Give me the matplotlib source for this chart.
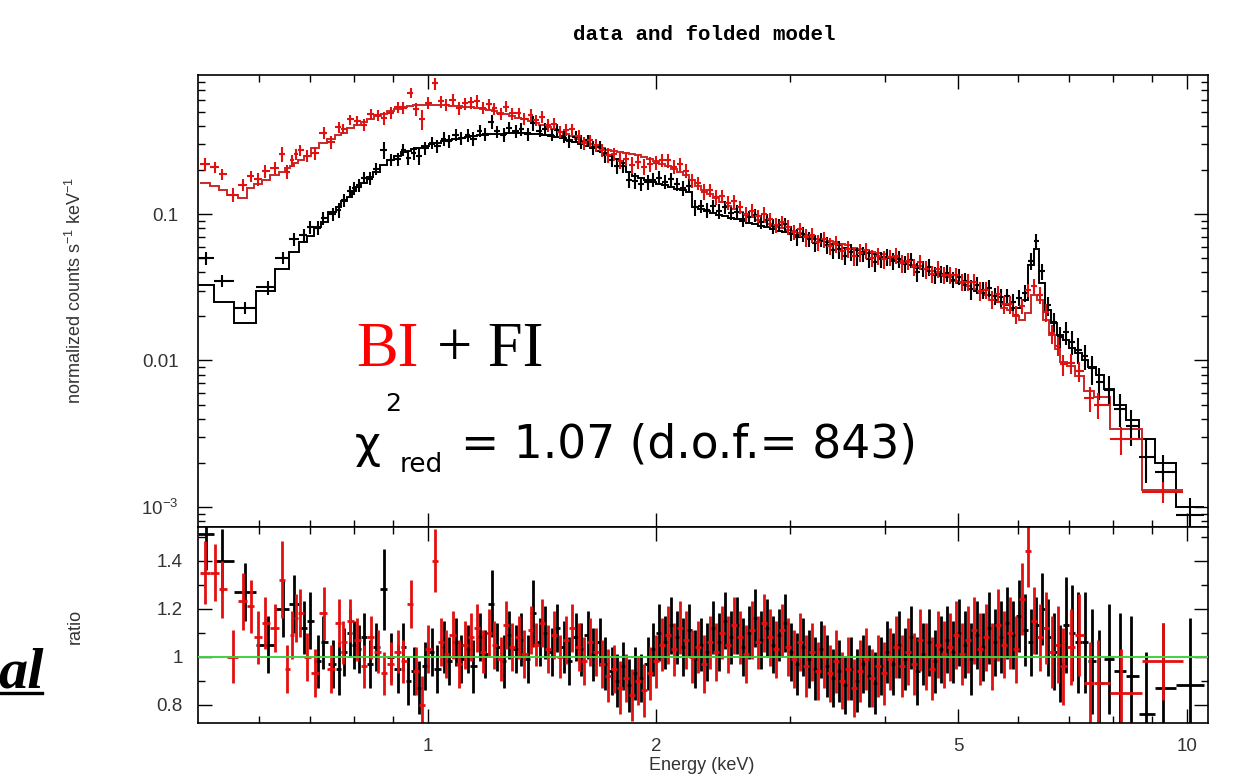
import numpy as np
import matplotlib
matplotlib.use("Agg")
import matplotlib.pyplot as plt
from matplotlib.ticker import FixedLocator, FixedFormatter, NullFormatter
from matplotlib.lines import Line2D

# ---------------- data ----------------
# FI (black) spectrum: bin centre energy (keV), folded model (counts/s/keV),
# data/model ratio and 1-sigma ratio error
fi_energy = [
    0.510, 0.535, 0.575, 0.615, 0.645, 0.667, 0.686, 0.700, 0.717, 0.728,
    0.750, 0.763, 0.775, 0.789, 0.800, 0.811, 0.823, 0.840, 0.854, 0.875,
    0.894, 0.913, 0.929,
    0.941, 0.958, 0.974, 0.993, 1.012, 1.029, 1.050, 1.067, 1.089, 1.107,
    1.129, 1.148, 1.171, 1.190, 1.214, 1.234, 1.259, 1.280, 1.306, 1.328,
    1.354, 1.377, 1.404, 1.428, 1.456, 1.481, 1.510, 1.536, 1.566, 1.593,
    1.624, 1.652, 1.684, 1.713, 1.747, 1.777, 1.811, 1.842, 1.878, 1.911,
    1.948, 1.982, 2.020, 2.055, 2.095, 2.131, 2.172, 2.210, 2.253, 2.292,
    2.336, 2.377, 2.423, 2.465, 2.512, 2.556, 2.605, 2.651, 2.702, 2.749,
    2.801, 2.851, 2.905, 2.956, 3.012, 3.066, 3.124, 3.179, 3.239, 3.297,
    3.359, 3.419, 3.484, 3.545, 3.612, 3.677, 3.746, 3.813, 3.885, 3.954,
    4.029, 4.101, 4.178, 4.253, 4.333, 4.410, 4.493, 4.574, 4.660, 4.743,
    4.832, 4.919, 5.011, 5.101, 5.197, 5.290, 5.389, 5.486, 5.589, 5.690,
    5.796, 5.901, 6.011, 6.119, 6.231, 6.339, 6.451, 6.569, 6.691, 6.809,
    6.94, 7.07, 7.20, 7.34, 7.50, 7.67, 7.90, 8.17, 8.45, 8.85,
    9.30, 10.1,
]
fi_model = [
    0.033, 0.025, 0.018, 0.030, 0.042, 0.055, 0.064, 0.071, 0.082, 0.088,
    0.103, 0.112, 0.122, 0.130, 0.143, 0.153, 0.163, 0.180, 0.195, 0.215,
    0.235, 0.250, 0.265,
    0.270, 0.277, 0.284, 0.292, 0.300, 0.307, 0.314, 0.320, 0.326, 0.331,
    0.336, 0.340, 0.344, 0.347, 0.350, 0.352, 0.354, 0.355, 0.356, 0.356,
    0.355, 0.353, 0.350, 0.346, 0.341, 0.335, 0.328, 0.320, 0.311, 0.302,
    0.292, 0.282, 0.271, 0.260, 0.248, 0.236, 0.222, 0.195, 0.182, 0.176,
    0.170, 0.166, 0.161, 0.157, 0.153, 0.149, 0.145, 0.141, 0.112, 0.108,
    0.105, 0.102, 0.099, 0.097, 0.094, 0.092, 0.089, 0.087, 0.085, 0.083,
    0.081, 0.079, 0.077, 0.075, 0.073, 0.072, 0.070, 0.068, 0.067, 0.065,
    0.064, 0.062, 0.061, 0.059, 0.058, 0.057, 0.055, 0.054, 0.053, 0.051,
    0.050, 0.049, 0.047, 0.046, 0.045, 0.043, 0.042, 0.041, 0.039, 0.038,
    0.037, 0.035, 0.034, 0.033, 0.031, 0.030, 0.029, 0.028, 0.026, 0.025,
    0.024, 0.023, 0.023, 0.026, 0.045, 0.058, 0.034, 0.022, 0.018, 0.015,
    0.0138, 0.0122, 0.0112, 0.0101, 0.0090, 0.0080, 0.0064, 0.0050, 0.0039, 0.0029,
    0.0020, 0.0010,
]
fi_ratio = [
    1.51, 1.40, 1.27, 1.05, 1.20, 1.22, 1.12, 1.15, 0.98, 1.06,
    0.97, 0.95, 1.02, 1.10, 1.05, 1.03, 1.08, 0.97, 1.04, 1.28,
    1.00, 0.95, 1.04,
    0.90, 0.94, 0.87, 0.96, 1.02, 0.95, 1.04, 0.98, 1.06, 0.99,
    1.03, 0.96, 1.08, 1.01, 1.22, 1.04, 0.98, 1.09, 1.03, 1.07,
    0.99, 1.18, 1.06, 1.10, 1.02, 1.12, 1.04, 0.98, 1.08, 1.03,
    1.09, 1.01, 1.06, 0.97, 0.94, 0.90, 0.96, 0.88, 0.93, 0.91,
    0.97, 1.03, 1.10, 1.06, 1.13, 1.08, 1.04, 1.11, 0.99, 1.05,
    1.02, 1.12, 1.06, 1.15, 1.08, 1.13, 1.04, 1.10, 1.16, 1.07,
    1.12, 1.05, 1.09, 1.14, 1.02, 0.97, 1.04, 0.99, 0.95, 1.03,
    0.96, 0.91, 0.94, 0.88, 0.95, 0.90, 0.97, 0.92, 0.89, 0.96,
    1.02, 0.97, 1.05, 0.99, 1.08, 0.94, 1.01, 1.06, 0.98, 1.03,
    1.07, 1.02, 1.10, 1.05, 0.99, 1.09, 1.04, 1.12, 1.06, 1.08,
    1.14, 1.09, 1.17, 1.11, 1.06, 1.13, 1.20, 1.08, 1.02, 0.97,
    1.13, 1.10, 1.06, 1.06, 0.98, 0.89, 0.99, 0.94, 0.92, 0.76,
    0.87, 0.88,
]
fi_err = [
    0.15, 0.13, 0.12, 0.12, 0.12, 0.12, 0.11, 0.12, 0.11, 0.11,
    0.10, 0.11, 0.10, 0.10, 0.10, 0.10, 0.10, 0.10, 0.10, 0.17,
    0.10, 0.10, 0.10,
    0.10, 0.10, 0.11, 0.10, 0.10, 0.10, 0.11, 0.10, 0.10, 0.10,
    0.10, 0.11, 0.10, 0.10, 0.14, 0.10, 0.11, 0.10, 0.10, 0.11,
    0.10, 0.14, 0.10, 0.11, 0.10, 0.10, 0.11, 0.10, 0.10, 0.11,
    0.10, 0.11, 0.10, 0.11, 0.10, 0.11, 0.10, 0.11, 0.11, 0.10,
    0.11, 0.11, 0.12, 0.11, 0.12, 0.11, 0.12, 0.11, 0.12, 0.11,
    0.12, 0.11, 0.12, 0.12, 0.11, 0.12, 0.12, 0.11, 0.12, 0.12,
    0.12, 0.12, 0.11, 0.12, 0.12, 0.13, 0.12, 0.12, 0.13, 0.12,
    0.13, 0.12, 0.13, 0.12, 0.13, 0.13, 0.12, 0.13, 0.13, 0.12,
    0.13, 0.13, 0.14, 0.13, 0.13, 0.14, 0.13, 0.14, 0.13, 0.14,
    0.14, 0.13, 0.14, 0.14, 0.15, 0.14, 0.14, 0.15, 0.14, 0.15,
    0.15, 0.14, 0.15, 0.15, 0.14, 0.12, 0.15, 0.16, 0.16, 0.16,
    0.20, 0.20, 0.21, 0.21, 0.22, 0.22, 0.23, 0.24, 0.25, 0.26,
    0.27, 0.28,
]

# BI (red) spectrum
bi_energy = [
    0.509, 0.524, 0.536, 0.553, 0.570, 0.584, 0.598, 0.611, 0.630, 0.643,
    0.653, 0.662, 0.671, 0.679, 0.694, 0.711, 0.729, 0.745, 0.763, 0.774,
    0.791, 0.808, 0.823, 0.841, 0.859, 0.875, 0.894, 0.913, 0.929,
    0.949, 0.966, 0.984, 1.002, 1.021, 1.040, 1.058, 1.078, 1.098, 1.118,
    1.139, 1.160, 1.181, 1.203, 1.224, 1.247, 1.269, 1.293, 1.317, 1.341,
    1.366, 1.390, 1.416, 1.442, 1.468, 1.495, 1.523, 1.551, 1.580, 1.608,
    1.638, 1.668, 1.698, 1.730, 1.762, 1.794, 1.826, 1.860, 1.894, 1.929,
    1.965, 2.001, 2.038, 2.075, 2.113, 2.151, 2.191, 2.231, 2.272, 2.314,
    2.356, 2.400, 2.444, 2.489, 2.534, 2.580, 2.628, 2.676, 2.725, 2.775,
    2.826, 2.878, 2.930, 2.984, 3.039, 3.095, 3.151, 3.209, 3.268, 3.328,
    3.389, 3.451, 3.514, 3.579, 3.644, 3.711, 3.779, 3.849, 3.919, 3.991,
    4.065, 4.139, 4.215, 4.292, 4.371, 4.451, 4.533, 4.616, 4.701, 4.787,
    4.875, 4.964, 5.055, 5.148, 5.242, 5.338, 5.436, 5.536, 5.637, 5.740,
    5.846, 5.953, 6.062, 6.173, 6.286, 6.401, 6.519, 6.638, 6.760, 6.880,
    7.05, 7.22, 7.45, 7.65, 8.20, 9.30,
]
bi_model = [
    0.162, 0.155, 0.146, 0.135, 0.129, 0.150, 0.160, 0.172, 0.185, 0.195,
    0.205, 0.213, 0.222, 0.232, 0.250, 0.280, 0.305, 0.325, 0.345, 0.360,
    0.385, 0.405, 0.425, 0.445, 0.465, 0.485, 0.505, 0.525, 0.540,
    0.550, 0.553, 0.555, 0.556, 0.556, 0.555, 0.553, 0.550, 0.546, 0.541,
    0.535, 0.528, 0.520, 0.511, 0.501, 0.490, 0.479, 0.467, 0.455, 0.443,
    0.430, 0.417, 0.404, 0.391, 0.378, 0.365, 0.352, 0.339, 0.326, 0.313,
    0.300, 0.288, 0.280, 0.274, 0.269, 0.265, 0.262, 0.258, 0.252, 0.245,
    0.237, 0.229, 0.221, 0.213, 0.204, 0.195, 0.185, 0.170, 0.156, 0.146,
    0.137, 0.128, 0.121, 0.114, 0.108, 0.103, 0.099, 0.095, 0.091, 0.088,
    0.085, 0.082, 0.080, 0.078, 0.076, 0.074, 0.072, 0.070, 0.068, 0.067,
    0.065, 0.064, 0.062, 0.061, 0.059, 0.058, 0.057, 0.055, 0.054, 0.053,
    0.051, 0.050, 0.048, 0.047, 0.045, 0.044, 0.042, 0.041, 0.040, 0.038,
    0.037, 0.035, 0.034, 0.032, 0.031, 0.029, 0.028, 0.026, 0.025, 0.023,
    0.022, 0.020, 0.019, 0.021, 0.028, 0.026, 0.019, 0.015, 0.012, 0.0098,
    0.0092, 0.0078, 0.0062, 0.0056, 0.0034, 0.0013,
]
bi_ratio = [
    1.35, 1.35, 1.28, 1.00, 1.23, 1.21, 1.08, 1.14, 1.12, 1.32,
    0.95, 1.09, 1.16, 1.18, 1.00, 0.93, 1.18, 0.95, 1.14, 1.06,
    1.15, 1.07, 0.96, 1.08, 1.02, 0.93, 0.97, 1.02, 0.98,
    1.22, 0.94, 0.80, 1.03, 1.40, 1.06, 1.01, 1.09, 0.97, 1.05,
    1.08, 1.12, 1.02, 1.10, 1.05, 0.99, 1.13, 1.04, 1.08, 1.01,
    1.11, 1.05, 1.14, 1.03, 1.09, 1.00, 1.07, 1.12, 1.04, 0.98,
    1.06, 1.02, 0.97, 0.92, 0.95, 0.87, 0.91, 0.84, 0.90, 0.86,
    0.93, 0.98, 1.05, 1.09, 1.03, 1.12, 1.07, 1.00, 1.04, 0.97,
    1.06, 1.02, 1.10, 1.05, 1.13, 1.08, 1.01, 1.11, 1.06, 1.14,
    1.08, 1.03, 1.11, 1.04, 0.99, 1.06, 0.96, 1.02, 0.94, 1.00,
    0.93, 0.98, 0.90, 0.95, 0.87, 0.94, 0.99, 0.91, 0.96, 0.93,
    0.99, 1.04, 0.96, 1.02, 0.97, 1.07, 1.00, 0.95, 1.05, 1.01,
    1.04, 1.09, 1.01, 1.07, 1.11, 1.03, 1.08, 1.00, 1.13, 1.05,
    1.10, 1.03, 1.24, 1.44, 1.15, 1.08, 1.12, 1.02, 1.05, 0.96,
    1.04, 1.09, 0.89, 0.89, 0.85, 0.98,
]
bi_err = [
    0.13, 0.12, 0.12, 0.11, 0.12, 0.11, 0.11, 0.11, 0.10, 0.16,
    0.10, 0.10, 0.10, 0.10, 0.10, 0.10, 0.11, 0.10, 0.10, 0.09,
    0.09, 0.09, 0.09, 0.09, 0.09, 0.09, 0.09, 0.09, 0.09,
    0.10, 0.10, 0.12, 0.10, 0.13, 0.10, 0.10, 0.10, 0.10, 0.10,
    0.10, 0.10, 0.09, 0.10, 0.10, 0.09, 0.10, 0.10, 0.09, 0.10,
    0.10, 0.09, 0.10, 0.10, 0.10, 0.09, 0.10, 0.10, 0.10, 0.10,
    0.10, 0.10, 0.10, 0.11, 0.10, 0.11, 0.10, 0.11, 0.10, 0.11,
    0.11, 0.11, 0.11, 0.12, 0.11, 0.11, 0.12, 0.11, 0.11, 0.12,
    0.11, 0.12, 0.11, 0.12, 0.12, 0.11, 0.12, 0.12, 0.11, 0.12,
    0.12, 0.12, 0.11, 0.12, 0.12, 0.12, 0.13, 0.12, 0.12, 0.13,
    0.12, 0.13, 0.12, 0.13, 0.12, 0.13, 0.13, 0.12, 0.13, 0.13,
    0.13, 0.13, 0.13, 0.14, 0.13, 0.13, 0.14, 0.13, 0.14, 0.14,
    0.14, 0.14, 0.13, 0.14, 0.14, 0.15, 0.14, 0.14, 0.15, 0.14,
    0.15, 0.14, 0.15, 0.15, 0.14, 0.14, 0.15, 0.15, 0.16, 0.16,
    0.16, 0.17, 0.17, 0.18, 0.18, 0.16,
]

x_tick_vals = [1, 2, 5, 10]
x_tick_text = ["1", "2", "5", "10"]
y_tick_vals = [1e-3, 1e-2, 1e-1]
y_tick_text = ["10$^{-3}$", "0.01", "0.1"]
r_tick_vals = [0.8, 1.0, 1.2, 1.4]
r_tick_text = ["0.8", "1", "1.2", "1.4"]

# ---------------- figure ----------------
plt.rcParams["mathtext.default"] = "regular"
W, H = 1241, 774
fig = plt.figure(figsize=(W / 100, H / 100), dpi=100)


def fx(px):
    return px / W


def fy(py):
    return 1 - py / H


L, R, T, M, B = 198, 1208, 75, 527, 723
ax1 = fig.add_axes([fx(L), fy(M), (R - L) / W, (M - T) / H])
ax2 = fig.add_axes([fx(L), fy(B), (R - L) / W, (B - M) / H], sharex=ax1)


def bin_edges(e):
    e = np.asarray(e, float)
    mid = np.sqrt(e[1:] * e[:-1])
    return np.concatenate([[e[0] ** 2 / mid[0]], mid, [e[-1] ** 2 / mid[-1]]])


def draw(energy, model, ratio, err, dcol, mcol):
    e = np.asarray(energy, float)
    m = np.asarray(model, float)
    r = np.asarray(ratio, float)
    s = np.asarray(err, float)
    ed = bin_edges(e)
    xerr = [e - ed[:-1], ed[1:] - e]
    ax1.errorbar(e, m * r, xerr=xerr, yerr=m * s, fmt="none",
                 ecolor=dcol, elinewidth=1.5, capsize=0)
    ax1.stairs(m, ed, color=mcol, lw=1.4, baseline=None)
    ax2.errorbar(e, r, xerr=xerr, yerr=s, fmt="none",
                 ecolor=dcol, elinewidth=2.0, capsize=0)


draw(fi_energy, fi_model, fi_ratio, fi_err, "black", "black")
draw(bi_energy, bi_model, bi_ratio, bi_err, "#e41010", "#c82828")
ax2.axhline(1.0, color="#3fd23f", lw=1.4, zorder=10)

for ax in (ax1, ax2):
    ax.set_xscale("log")
    ax.set_xlim(0.498, 10.67)
    for sp in ax.spines.values():
        sp.set_linewidth(1.2)
    ax.tick_params(which="both", direction="in", top=True, right=True,
                   colors="black", labelcolor="#333333", labelsize=13.5)
    ax.tick_params(which="major", length=10, width=1.0)
    ax.tick_params(which="minor", length=5, width=1.0)
    ax.xaxis.set_major_locator(FixedLocator(x_tick_vals))
    ax.xaxis.set_minor_locator(FixedLocator([0.6, 0.7, 0.8, 0.9, 3, 4, 6, 7, 8, 9]))
    ax.xaxis.set_minor_formatter(NullFormatter())

ax1.set_yscale("log")
ax1.set_ylim(7.3e-4, 0.889)
ax1.yaxis.set_major_locator(FixedLocator(y_tick_vals))
ax1.yaxis.set_major_formatter(FixedFormatter(y_tick_text))
ax1.yaxis.set_minor_locator(FixedLocator(
    [k * 10.0 ** p for p in (-4, -3, -2, -1) for k in range(2, 10)]))
ax1.yaxis.set_minor_formatter(NullFormatter())
ax1.tick_params(axis="x", labelbottom=False)
ax1.tick_params(axis="y", pad=14)

ax2.set_ylim(0.723, 1.54)
ax2.yaxis.set_major_locator(FixedLocator(r_tick_vals))
ax2.yaxis.set_major_formatter(FixedFormatter(r_tick_text))
ax2.yaxis.set_minor_locator(FixedLocator([0.9, 1.1, 1.3, 1.5]))
ax2.xaxis.set_major_formatter(FixedFormatter(x_tick_text))
ax2.tick_params(axis="y", pad=11)
ax2.tick_params(axis="x", pad=11)

for ax in (ax1, ax2):
    for lab in ax.get_xticklabels() + ax.get_yticklabels():
        lab.set_family("Liberation Sans")

# ---------------- texts ----------------
fig.text(fx(704), fy(35), "data and folded model", ha="center", va="center",
         family="Liberation Mono", weight="bold", fontsize=15, color="black")
fig.text(fx(75), fy(290), "normalized counts s$^{-1}$ keV$^{-1}$", rotation=90,
         ha="center", va="center", family="Liberation Sans", fontsize=13,
         color="#333333")
fig.text(fx(75), fy(626), "ratio", rotation=90, ha="center", va="center",
         family="Liberation Sans", fontsize=13, color="#333333")
fig.text(fx(702), fy(757), "Energy (keV)", ha="center", va="top",
         family="Liberation Sans", fontsize=13, color="#333333")

fig.text(fx(356), fy(366), "BI", color="#ff0000", family="Liberation Serif",
         fontsize=45, va="baseline", ha="left")
fig.text(fx(437), fy(366), "+ FI", color="black", family="Liberation Serif",
         fontsize=45, va="baseline", ha="left")

fig.text(fx(355), fy(458), "\u03c7", family="DejaVu Sans", fontsize=32.5,
         va="baseline", ha="left")
fig.text(fx(385), fy(411), "2", family="DejaVu Sans", fontsize=18,
         va="baseline", ha="left")
fig.text(fx(400), fy(472), "red", family="DejaVu Sans", fontsize=19,
         va="baseline", ha="left")
fig.text(fx(461), fy(458), "= 1.07 (d.o.f.= 843)", family="DejaVu Sans",
         fontsize=32.8, va="baseline", ha="left")

fig.text(fx(-2), fy(687), "al", family="Liberation Serif", style="italic",
         weight="bold", fontsize=42, va="baseline", ha="left")
fig.add_artist(Line2D([0, fx(42)], [fy(693), fy(693)], color="black", lw=2.4))

fig.savefig("out.png", dpi=100)
